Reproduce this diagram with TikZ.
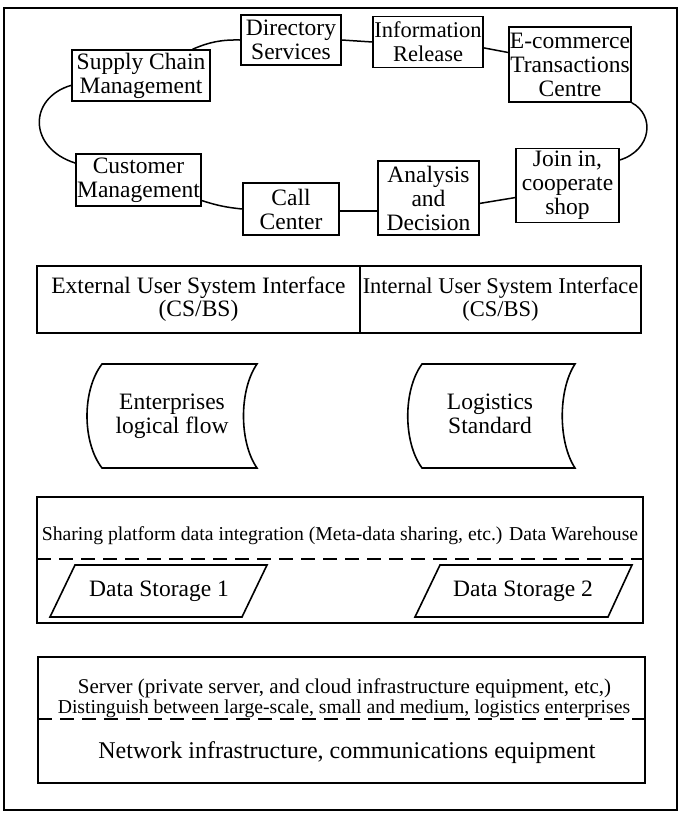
\documentclass[tikz,border=0pt]{standalone}
\usepackage{fontspec}
\setmainfont{Liberation Serif}
\newcommand\fsz[2]{\fontsize{#1}{#2}\selectfont}
\begin{document}
\begin{tikzpicture}[x=1pt,y=-1pt,
  bx/.style={draw, line width=1.6pt, align=center, inner sep=1pt, font=\fsz{23.5}{24}},
  con/.style={line width=1.5pt},
  frm/.style={draw, line width=1.6pt},
  dsh/.style={line width=2.2pt, dash pattern=on 14pt off 8pt},
  lbl/.style={align=center, inner sep=0pt}]
\useasboundingbox (0,0) rectangle (680,815);
\draw[frm] (4,8) rectangle (677,810);

% ring of services
\node[bx, minimum width=100pt, minimum height=50pt] (dir) at (291,40) {Directory\\Services};
\node[bx, font=\fsz{22.5}{24}, minimum width=108pt, minimum height=51pt] (info) at (428,42) {Information\\Release};
\node[bx, minimum width=122pt, minimum height=75pt] (ecom) at (570,64.5) {E-commerce\\Transactions\\Centre};
\node[bx, minimum width=138pt, minimum height=51pt] (supply) at (141,75.5) {Supply Chain\\Management};
\node[bx, minimum width=125pt, minimum height=52pt] (cust) at (138.5,180) {Customer\\Management};
\node[bx, minimum width=96pt, minimum height=52pt] (call) at (291,209) {Call\\Center};
\node[bx, minimum width=101pt, minimum height=74pt] (anal) at (428.5,198) {Analysis\\and\\Decision};
\node[bx, minimum width=103pt, minimum height=74pt] (join) at (567.5,185.5) {Join in,\\cooperate\\shop};

\draw[con] (supply.27) to[bend left=12] (dir.west);
\draw[con] (dir.east) -- (info.west);
\draw[con] (info.-6) -- (ecom.169);
\draw[con] (ecom.south east) .. controls (655,115) and (652,150) .. (join.26);
\draw[con] (join.193) -- (anal.-6);
\draw[con] (anal.194) -- (call.east |- anal.194);
\draw[con] (call.west) to[bend left=6] (cust.-18);
\draw[con] (cust.165) .. controls (28,148) and (28,98) .. (supply.188);

% interfaces
\node[bx, font=\fsz{23.5}{23}, minimum width=323pt, minimum height=67pt] (ext) at (198.5,299.5) {External User System Interface\\(CS/BS)};
\node[bx, font=\fsz{22.5}{23}, minimum width=281pt, minimum height=67pt] (int) at (500.5,299.5) {Internal User System Interface\\(CS/BS)};

% stored data shapes
\draw[frm] (102,364) -- (257,364) .. controls (239,390) and (239,442) .. (257,468) -- (102,468) .. controls (82,442) and (82,390) .. cycle;
\node[lbl, font=\fsz{23.5}{24}] (ent) at (172,416) {Enterprises\\logical flow};
\draw[frm] (422,364) -- (575,364) .. controls (558,390) and (558,442) .. (575,468) -- (422,468) .. controls (403,442) and (403,390) .. cycle;
\node[lbl, font=\fsz{23.5}{24}] (logi) at (490,414) {Logistics\\Standard};

% data layer
\node[bx, minimum width=606pt, minimum height=126pt] (data) at (340,560) {};
\node[lbl, font=\fsz{19.7}{20}] (share) at (340,536) {Sharing platform data integration (Meta-data sharing, etc.) Data Warehouse};
\coordinate (dl) at (37,559);
\coordinate (dr) at (643,559);
\draw[dsh] (dl) -- (dr);
\draw[frm] (75,565) -- (267,565) -- (242,617) -- (50,617) -- cycle;
\node[lbl, font=\fsz{23.5}{24}] (ds1) at (159,591) {Data Storage 1};
\draw[frm] (440,565) -- (632,565) -- (608,617) -- (415,617) -- cycle;
\node[lbl, font=\fsz{23.5}{24}] (ds2) at (523,591) {Data Storage 2};

% infrastructure layer
\node[bx, minimum width=607pt, minimum height=126pt] (infra) at (341.5,720) {};
\node[lbl, font=\fsz{21}{21}] (server) at (344.5,688) {Server (private server, and cloud infrastructure equipment, etc,)};
\node[lbl, font=\fsz{19.7}{20}] (dist) at (344,709) {Distinguish between large-scale, small and medium, logistics enterprises};
\coordinate (il) at (38,719);
\coordinate (ir) at (645,719);
\draw[dsh] (il) -- (ir);
\node[lbl, font=\fsz{24}{24}] (net) at (347,753) {Network infrastructure, communications equipment};
\end{tikzpicture}
\end{document}
